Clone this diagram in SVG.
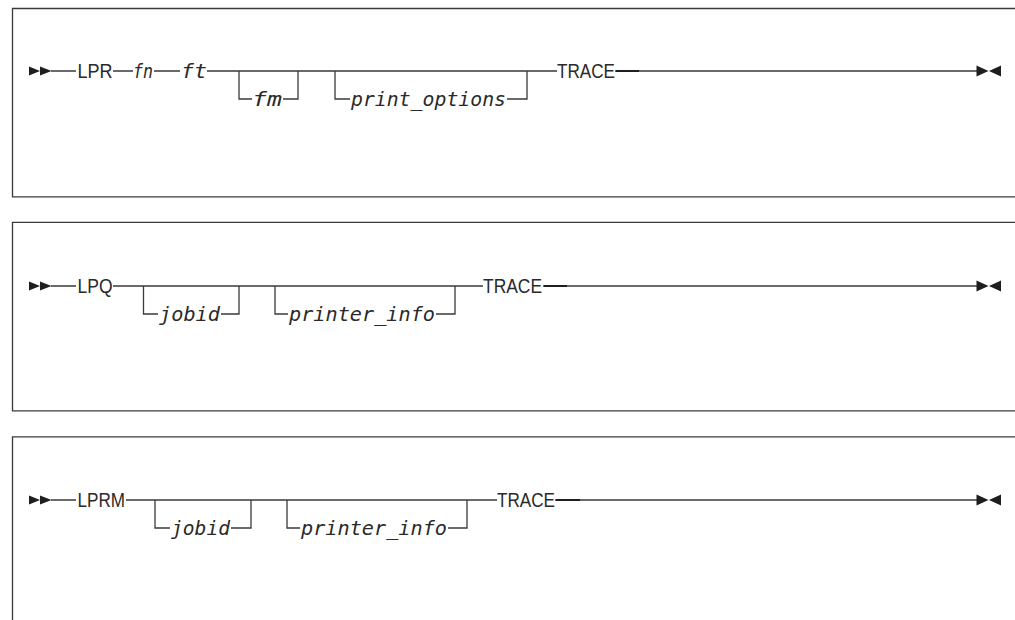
<svg xmlns="http://www.w3.org/2000/svg" width="1015" height="620" viewBox="0 0 1015 620">
<style>
.frame{fill:none;stroke:#3a3a3a;stroke-width:1.3}
.ln{fill:none;stroke:#3a3a3a;stroke-width:1.3}
.dk{fill:none;stroke:#1e1e1e;stroke-width:2}
.kw{font-family:"Liberation Sans","DejaVu Sans",sans-serif;font-size:19.5px;fill:#2a2a2a}
.var{font-family:"DejaVu Sans Mono","Liberation Mono",monospace;font-style:italic;font-size:19px;fill:#2a2a2a}
.arr{fill:#1e1e1e}
</style>
<defs>
<g id="startArr"><polygon points="0,-4.5 11,0 0,4.5"/><polygon points="11,-4.5 22.5,0 11,4.5"/></g>
<g id="endArr"><polygon points="0,-5.5 12,0 0,5.5"/><polygon points="24.5,-5.5 12.5,0 24.5,5.5"/></g>
</defs>
<rect width="1015" height="620" fill="#ffffff"/>

<g id="frames">
<path class="frame" d="M1015,8.5 H12.5 V196.8 H1015"/>
<path class="frame" d="M1015,222.3 H12.5 V410.8 H1015"/>
<path class="frame" d="M1015,436.8 H12.5 V620"/>
</g>

<g id="connectors">
<!-- panel 1 -->
<path class="ln" d="M51,71 H76 M113,71 H133 M154,71 H180 M207,71 H557 M615,71 H977"/>
<path class="dk" d="M616,71 H639"/>
<path class="ln" d="M239,71 V99 H252 M283,99 H298 V71"/>
<path class="ln" d="M335,71 V99 H350 M507,99 H527 V71"/>
<!-- panel 2 -->
<path class="ln" d="M51,286 H76 M113,286 H483 M543,286 H977"/>
<path class="dk" d="M544,286 H567"/>
<path class="ln" d="M143.5,286 V314 H158 M221,314 H239 V286"/>
<path class="ln" d="M275,286 V314 H288 M436,314 H455 V286"/>
<!-- panel 3 -->
<path class="ln" d="M51,500 H76 M126,500 H497 M555,500 H977"/>
<path class="dk" d="M556,500 H580"/>
<path class="ln" d="M155,500 V528 H170 M231,528 H251 V500"/>
<path class="ln" d="M287,500 V528 H300 M448,528 H467 V500"/>
</g>

<g id="lpr-start" class="arr"><use href="#startArr" x="29" y="71"/></g>
<g id="lpr-kw"><text class="kw" x="77.5" y="77.5" textLength="35" lengthAdjust="spacingAndGlyphs">LPR</text></g>
<g id="lpr-fn"><text class="var" x="133" y="77.5" textLength="20" lengthAdjust="spacingAndGlyphs">fn</text></g>
<g id="lpr-ft"><text class="var" x="181" y="77.5" textLength="26" lengthAdjust="spacingAndGlyphs">ft</text></g>
<g id="lpr-fm"><text class="var" x="252" y="106" textLength="30" lengthAdjust="spacingAndGlyphs">fm</text></g>
<g id="lpr-print-options"><text class="var" x="351" y="106" textLength="155" lengthAdjust="spacingAndGlyphs">print_options</text></g>
<g id="lpr-trace"><text class="kw" x="557" y="77.5" textLength="58" lengthAdjust="spacingAndGlyphs">TRACE</text></g>
<g id="lpr-end" class="arr"><use href="#endArr" x="976.5" y="71"/></g>

<g id="lpq-start" class="arr"><use href="#startArr" x="29" y="286"/></g>
<g id="lpq-kw"><text class="kw" x="77.5" y="292.5" textLength="35" lengthAdjust="spacingAndGlyphs">LPQ</text></g>
<g id="lpq-jobid"><text class="var" x="159" y="321" textLength="61" lengthAdjust="spacingAndGlyphs">jobid</text></g>
<g id="lpq-printer-info"><text class="var" x="289" y="321" textLength="146" lengthAdjust="spacingAndGlyphs">printer_info</text></g>
<g id="lpq-trace"><text class="kw" x="483" y="292.5" textLength="59" lengthAdjust="spacingAndGlyphs">TRACE</text></g>
<g id="lpq-end" class="arr"><use href="#endArr" x="976.5" y="286"/></g>

<g id="lprm-start" class="arr"><use href="#startArr" x="29" y="500"/></g>
<g id="lprm-kw"><text class="kw" x="77.5" y="506.5" textLength="47.5" lengthAdjust="spacingAndGlyphs">LPRM</text></g>
<g id="lprm-jobid"><text class="var" x="171" y="535" textLength="59" lengthAdjust="spacingAndGlyphs">jobid</text></g>
<g id="lprm-printer-info"><text class="var" x="301" y="535" textLength="146" lengthAdjust="spacingAndGlyphs">printer_info</text></g>
<g id="lprm-trace"><text class="kw" x="497" y="506.5" textLength="58" lengthAdjust="spacingAndGlyphs">TRACE</text></g>
<g id="lprm-end" class="arr"><use href="#endArr" x="976.5" y="500"/></g>
</svg>
